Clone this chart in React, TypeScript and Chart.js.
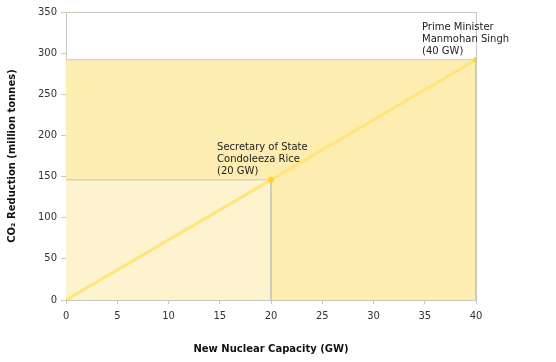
import React, { useEffect, useRef } from "react";
import { Chart, registerables } from "chart.js";

Chart.register(...registerables);

const capacityGW = [0, 20, 40];
const co2Reduction = [0, 146, 292];
const xTicks = [0, 5, 10, 15, 20, 25, 30, 35, 40];
const yTicks = [0, 50, 100, 150, 200, 250, 300, 350];
const annotationIndex = [1, 2];
const annotationLines = [
  ["Secretary of State", "Condoleeza Rice", "(20 GW)"],
  ["Prime Minister", "Manmohan Singh", "(40 GW)"],
];

const FONT = "'DejaVu Sans', Verdana, sans-serif";
const BORDER = "#c9c9bd";

export default function App() {
  const ref = useRef<HTMLCanvasElement | null>(null);
  useEffect(() => {
    document.body.style.margin = "0";
    const ctx = ref.current!.getContext("2d")!;
    const pts = capacityGW.map((x, i) => ({ x, y: co2Reduction[i] }));
    const big = [
      { x: capacityGW[0], y: co2Reduction[2] },
      { x: capacityGW[2], y: co2Reduction[2] },
      { x: capacityGW[2], y: 0 },
    ];
    const small = [
      { x: capacityGW[0], y: co2Reduction[1] },
      { x: capacityGW[1], y: co2Reduction[1] },
      { x: capacityGW[1], y: 0 },
    ];
    const framePlugin = {
      id: "frame",
      beforeDatasetsDraw(chart: any) {
        const { ctx, chartArea } = chart;
        ctx.save();
        ctx.strokeStyle = BORDER;
        ctx.lineWidth = 1;
        ctx.strokeRect(
          Math.round(chartArea.left) + 0.5,
          Math.round(chartArea.top) + 0.5,
          Math.round(chartArea.right - chartArea.left),
          Math.round(chartArea.bottom - chartArea.top)
        );
        ctx.restore();
      },
      afterDraw(chart: any) {
        const { ctx } = chart;
        const xs = chart.scales.x;
        const ys = chart.scales.y;
        ctx.save();
        ctx.font = `10px ${FONT}`;
        ctx.fillStyle = "#222";
        ctx.textBaseline = "middle";
        ctx.textAlign = "left";
        annotationIndex.forEach((idx, k) => {
          const px = xs.getPixelForValue(capacityGW[idx]);
          const py = ys.getPixelForValue(co2Reduction[idx]);
          const lines = annotationLines[k];
          lines.forEach((t, j) => {
            ctx.fillText(t, px - 54, py - 8 - (lines.length - 1 - j) * 12);
          });
        });
        ctx.restore();
      },
    };
    const chart = new Chart(ctx, {
      type: "scatter",
      data: {
        datasets: [
          {
            data: big,
            order: 3,
            showLine: true,
            fill: "origin",
            backgroundColor: "#fdedb0",
            borderColor: BORDER,
            borderWidth: 1,
            pointRadius: 0,
          },
          {
            data: small,
            order: 2,
            showLine: true,
            fill: "origin",
            backgroundColor: "#fdf3cf",
            borderColor: BORDER,
            borderWidth: 1,
            pointRadius: 0,
          },
          {
            data: pts,
            order: 1,
            showLine: true,
            fill: false,
            borderColor: "#ffe57a",
            borderWidth: 3,
            pointRadius: [0, 3, 3],
            pointBackgroundColor: "#ffd21f",
            pointBorderWidth: 0,
          },
        ],
      },
      options: {
        animation: false,
        responsive: false,
        layout: { padding: { top: 12, right: 80, left: 6, bottom: 7 } },
        plugins: { legend: { display: false }, tooltip: { enabled: false } },
        scales: {
          x: {
            type: "linear",
            min: 0,
            max: 40,
            afterBuildTicks: (s: any) => {
              s.ticks = xTicks.map((v) => ({ value: v }));
            },
            grid: { drawOnChartArea: false, color: BORDER, tickLength: 4 },
            border: { color: BORDER },
            ticks: { color: "#333", font: { family: FONT, size: 10 }, padding: 6 },
            title: {
              display: true,
              text: "New Nuclear Capacity (GW)",
              color: "#111",
              font: { family: FONT, size: 10, weight: "bold" },
              padding: { top: 15, bottom: 0 },
            },
          },
          y: {
            type: "linear",
            min: 0,
            max: 350,
            afterBuildTicks: (s: any) => {
              s.ticks = yTicks.map((v) => ({ value: v }));
            },
            grid: { drawOnChartArea: false, color: BORDER, tickLength: 5 },
            border: { color: BORDER },
            ticks: { color: "#333", font: { family: FONT, size: 10 }, padding: 4 },
            title: {
              display: true,
              text: "CO₂ Reduction (million tonnes)",
              color: "#111",
              font: { family: FONT, size: 10, weight: "bold" },
              padding: { top: 0, bottom: 16 },
            },
          },
        },
      },
      plugins: [framePlugin],
    });
    return () => chart.destroy();
  }, []);
  return <canvas ref={ref} width={556} height={362} />;
}
